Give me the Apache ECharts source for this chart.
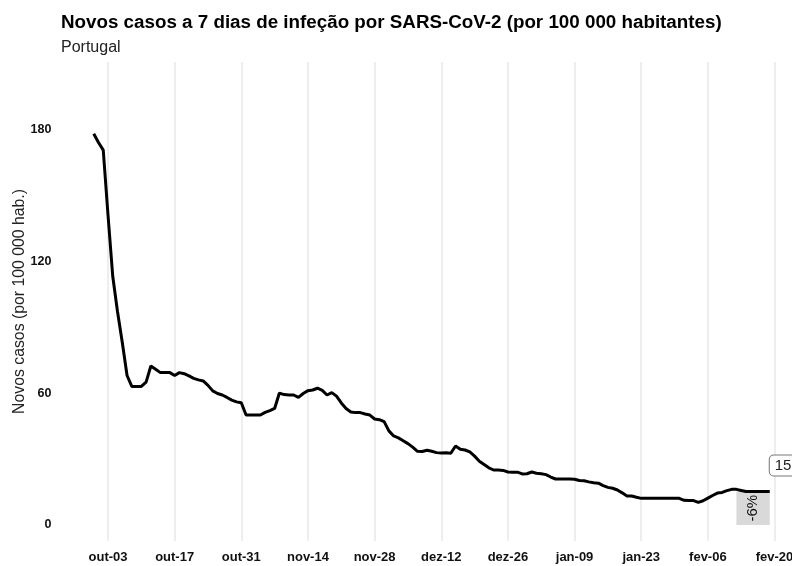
<!DOCTYPE html>
<html>
<head>
<meta charset="utf-8">
<script src="https://cdn.jsdelivr.net/npm/echarts@6/dist/echarts.min.js"></script>
<style>
  html, body { margin: 0; padding: 0; background: #fff; }
  #chart { width: 792px; height: 566px; }
</style>
</head>
<body>
<div id="chart"></div>
<script>
(function () {
    'use strict';

    // nomes dos meses para as etiquetas do eixo
    var monthNames = ['jan', 'fev', 'mar', 'abr', 'mai', 'jun', 'jul', 'ago', 'set', 'out', 'nov', 'dez'];

    // eixo: de 23 set 2022 a 23 fev 2023 (dias)
    var axisStart = [2022, 8, 23];
    var axisDays = 154;
    var firstLabelIndex = 10;   // out-03
    var labelStep = 14;

    // casos a 7 dias por 100 000 hab., diarios de 30 set a 19 fev
    var dataOffset = 7;
    var cases = [
        178, 174, 170.5, 141, 113, 97, 83, 68, 63, 63,
        63, 65, 72.3, 70.8, 69.3, 69.3, 69.3, 68, 69.3, 68.8,
        67.8, 66.7, 66, 65.5, 63.5, 61, 59.8, 59.1, 58, 56.8,
        56, 55.6, 50, 50, 50, 50, 51.2, 52, 53, 60,
        59.3, 59.1, 59.1, 58, 59.8, 61.1, 61.4, 62.2, 61.2, 59.1,
        60.2, 58.6, 55.5, 53, 51.4, 51.1, 51.1, 50.5, 50, 48.2,
        47.9, 47, 42.8, 40.5, 39.6, 38.3, 37, 35.4, 33.5, 33.4,
        34, 33.5, 32.9, 32.7, 32.8, 32.6, 35.9, 34.4, 34.1, 33.2,
        31.3, 29, 27.5, 26, 25, 25, 24.8, 24.1, 24, 24,
        23.2, 23.3, 24.1, 23.5, 23.3, 22.9, 21.8, 20.9, 20.9, 20.9,
        20.9, 20.8, 20.2, 20.1, 19.6, 19.2, 19, 17.9, 17.1, 16.7,
        15.9, 14.6, 13.2, 13.2, 12.6, 12.1, 12.1, 12.1, 12.1, 12.1,
        12.1, 12.1, 12.1, 12.1, 11.2, 11.1, 11.1, 10.3, 11, 12.2,
        13.4, 14.5, 14.8, 15.6, 16.2, 16.2, 15.7, 15.2, 15.2, 15.2,
        15.2, 15.2, 15.2
    ];

    // variacao da ultima semana
    var weekChange = '-6%';
    var weekStartIndex = 142;   // fev-12
    var weekEndIndex = 149;     // fev-19

    var yTicks = [0, 60, 120, 180];

    var categories = [];
    for (var i = 0; i < axisDays; i++) {
        var d = new Date(axisStart[0], axisStart[1], axisStart[2] + i);
        var dd = d.getDate() < 10 ? '0' + d.getDate() : '' + d.getDate();
        categories.push(monthNames[d.getMonth()] + '-' + dd);
    }

    var seriesData = [];
    for (var j = 0; j < axisDays; j++) {
        var k = j - dataOffset;
        seriesData.push(k >= 0 && k < cases.length ? cases[k] : null);
    }
    var lastValue = cases[cases.length - 1];

    function isLabelDay(idx) {
        return idx >= firstLabelIndex && (idx - firstLabelIndex) % labelStep === 0;
    }

    var chart = echarts.init(document.getElementById('chart'));

    chart.setOption({
        animation: false,
        textStyle: { fontFamily: '"Liberation Sans", Arial, sans-serif' },
        title: {
            left: 56,
            top: 8,
            text: 'Novos casos a 7 dias de infeção por SARS-CoV-2 (por 100 000 habitantes)',
            subtext: 'Portugal',
            itemGap: 8,
            textStyle: { fontSize: 18.8, fontWeight: 'bold', color: '#000' },
            subtextStyle: { fontSize: 16, color: '#222' }
        },
        grid: {
            left: 60.4,
            right: 3.2,
            top: 62,
            bottom: 25,
            containLabel: false,
            outerBoundsMode: 'none'
        },
        xAxis: {
            type: 'category',
            data: categories,
            boundaryGap: false,
            axisLine: { show: false },
            axisTick: { show: false },
            axisLabel: {
                interval: function (idx) { return isLabelDay(idx); },
                margin: 10,
                fontSize: 13,
                fontWeight: 'bold',
                color: '#111'
            },
            splitLine: {
                show: true,
                interval: function (idx) { return isLabelDay(idx); },
                lineStyle: { color: '#e8e8e8', width: 1.5 }
            }
        },
        yAxis: {
            type: 'value',
            min: -7.3,
            max: 210.6,
            name: 'Novos casos (por 100 000 hab.)',
            nameLocation: 'middle',
            nameGap: 33,
            nameMoveOverlap: false,
            nameTextStyle: { fontSize: 15.8, color: '#222' },
            axisLine: { show: false },
            axisTick: { show: false },
            splitLine: { show: false },
            axisLabel: {
                customValues: yTicks,
                margin: 9,
                fontSize: 12.5,
                fontWeight: 'bold',
                color: '#111'
            }
        },
        series: [{
            type: 'line',
            data: seriesData,
            showSymbol: false,
            symbol: 'none',
            lineStyle: { color: '#000', width: 3 },
            itemStyle: { color: '#000' },
            endLabel: {
                show: true,
                distance: 0,
                offset: [0, -26],
                formatter: function () { return Math.round(lastValue); },
                fontSize: 15,
                color: '#222',
                backgroundColor: '#fff',
                borderColor: '#777',
                borderWidth: 1,
                borderRadius: 4,
                padding: [3, 5, 2, 5]
            },
            markArea: {
                silent: true,
                itemStyle: { color: '#d9d9d9' },
                label: {
                    show: true,
                    position: 'inside',
                    rotate: 90,
                    fontSize: 15,
                    color: '#111'
                },
                data: [[
                    { name: weekChange, xAxis: categories[weekStartIndex], yAxis: 0 },
                    { xAxis: categories[weekEndIndex], yAxis: lastValue }
                ]]
            }
        }]
    });
})();
</script>
</body>
</html>
